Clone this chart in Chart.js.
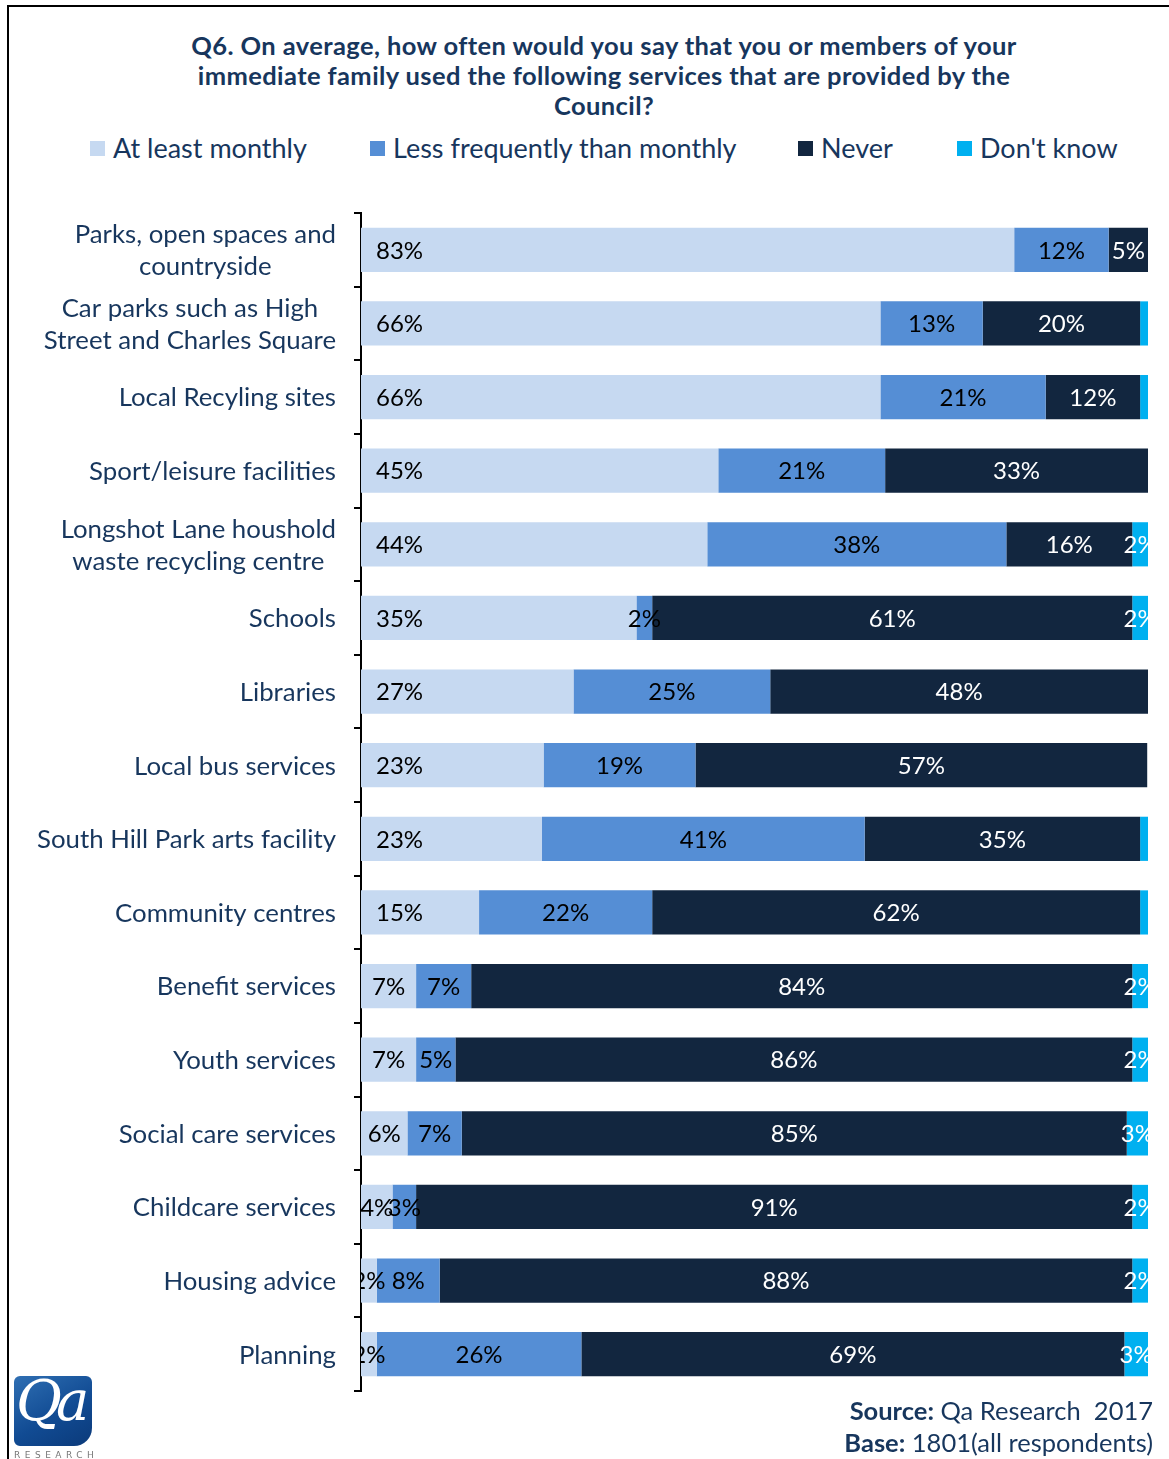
<!DOCTYPE html>
<html>
<head>
<meta charset="utf-8">
<script src="https://cdn.jsdelivr.net/npm/chart.js@4.4.1/dist/chart.umd.min.js"></script>
<style>
  html, body { margin: 0; padding: 0; background: #fff; }
  #page { position: relative; width: 1169px; height: 1459px; overflow: hidden; font-family: Lato, "Open Sans", sans-serif; }
  #frame { position: absolute; left: 7px; top: 5px; width: 1200px; height: 1500px; border-left: 2px solid #000; border-top: 2px solid #000; }
  #title { position: absolute; left: 100px; width: 1008px; top: 30px; text-align: center; font-weight: 700; font-size: 25.5px; letter-spacing: 0.4px; line-height: 30px; color: #17365D; }
  .lg { position: absolute; top: 131px; font-size: 27px; line-height: 34px; color: #17365D; white-space: nowrap; }
  .lg i { position: absolute; left: -23px; top: 10px; width: 15px; height: 15px; }
  #chart { position: absolute; left: 0; top: 0; }
  #source { position: absolute; right: 16px; top: 1394px; text-align: right; font-size: 25.5px; line-height: 32px; color: #17365D; white-space: nowrap; }
  #source b { font-weight: 700; }
  #logo { position: absolute; left: 14px; top: 1376px; width: 78px; height: 70px; border-radius: 6px 6px 18px 6px;
          background: linear-gradient(150deg, #2f6fb3 0%, #114b93 55%, #0b3a7a 100%); overflow: hidden; }
  #logo span { position: absolute; left: 2px; top: -8px; font-family: "DejaVu Serif", "Liberation Serif", serif; font-style: italic; color: #fff; font-size: 56px; letter-spacing: -6px; }
  #logotext { position: absolute; left: 14px; top: 1450px; font-size: 9px; letter-spacing: 4.5px; color: #777; font-family: "DejaVu Sans", sans-serif; }
</style>
</head>
<body>
<div id="page">
  <div id="frame"></div>
  <div id="title">Q6. On average, how often would you say that you or members of your<br>immediate family used the following services that are provided by the<br>Council?</div>
  <div class="lg" style="left:113px"><i style="background:#C6D9F1"></i>At least monthly</div>
  <div class="lg" style="left:393px"><i style="background:#558ED5"></i>Less frequently than monthly</div>
  <div class="lg" style="left:821px"><i style="background:#12263F"></i>Never</div>
  <div class="lg" style="left:980px"><i style="background:#00B0F0"></i>Don't know</div>
  <canvas id="chart" width="1169" height="1459"></canvas>
  <div id="source"><b>Source:</b> Qa Research&nbsp; 2017<br><b>Base:</b> 1801(all respondents)</div>
  <div id="logo"><span>Qa</span></div>
  <div id="logotext">RESEARCH</div>
</div>
<script>
// Services asked about (each entry is a list of label lines)
const services = [
  ["Parks, open spaces and", "countryside"],
  ["Car parks such as High", "Street and Charles Square"],
  ["Local Recyling sites"],
  ["Sport/leisure facilities"],
  ["Longshot Lane houshold", "waste recycling centre"],
  ["Schools"],
  ["Libraries"],
  ["Local bus services"],
  ["South Hill Park arts facility"],
  ["Community centres"],
  ["Benefit services"],
  ["Youth services"],
  ["Social care services"],
  ["Childcare services"],
  ["Housing advice"],
  ["Planning"]
];

// Share of respondents (%) per frequency band
const atLeastMonthly   = [83, 66, 66, 45.4, 44, 35, 27, 23.2, 23, 15, 7, 7, 5.9, 4, 2, 2];
const lessFrequently   = [12, 13, 21, 21.2, 38, 2, 25, 19.3, 41, 22, 7, 5, 6.9, 3, 8, 26];
const never            = [5, 20, 12, 33.4, 16, 61, 48, 57.4, 35, 62, 84, 86, 84.5, 91, 88, 69];
const dontKnow         = [0, 1, 1, 0, 2, 2, 0, 0, 1, 1, 2, 2, 2.7, 2, 2, 3];

const seriesNames  = ["At least monthly", "Less frequently than monthly", "Never", "Don't know"];
const seriesColors = ["#C6D9F1", "#558ED5", "#12263F", "#00B0F0"];
const labelColors  = ["#000000", "#000000", "#FFFFFF", "#FFFFFF"];

const FONT = "Lato, 'Open Sans', sans-serif";
const NAVY = "#17365D";

// Percentage labels inside each segment, clipped to the plot area
const segmentLabels = {
  id: "segmentLabels",
  afterDatasetsDraw(chart) {
    const { ctx, chartArea } = chart;
    ctx.save();
    ctx.beginPath();
    ctx.rect(chartArea.left, chartArea.top, chartArea.right - chartArea.left + 2, chartArea.bottom - chartArea.top);
    ctx.clip();
    ctx.font = "24px " + FONT;
    ctx.textBaseline = "middle";
    chart.data.datasets.forEach((ds, di) => {
      const meta = chart.getDatasetMeta(di);
      meta.data.forEach((bar, i) => {
        const v = ds.data[i];
        const r = Math.round(v);
        if (r < 2) return;
        const text = r + "%";
        const left = Math.min(bar.x, bar.base);
        const right = Math.max(bar.x, bar.base);
        const w = ctx.measureText(text).width;
        ctx.fillStyle = labelColors[di];
        if (di === 0 && right - left >= w + 30) {
          ctx.textAlign = "left";
          ctx.fillText(text, left + 15, bar.y + 1);
        } else {
          ctx.textAlign = "center";
          ctx.fillText(text, (left + right) / 2, bar.y + 1);
        }
      });
    });
    ctx.restore();
  }
};

// Category names: each block right-aligned to the axis, lines centred within the block
const categoryLabels = {
  id: "categoryLabels",
  afterDraw(chart) {
    const { ctx } = chart;
    const y = chart.scales.y;
    const rightEdge = chart.chartArea.left - 25;
    const lineH = 32;
    ctx.save();
    ctx.font = "25.8px " + FONT;
    ctx.fillStyle = NAVY;
    ctx.textBaseline = "middle";
    ctx.textAlign = "center";
    services.forEach((lines, i) => {
      const cy = y.getPixelForValue(i) + 1;
      const bw = Math.max(...lines.map(l => ctx.measureText(l).width));
      const cx = rightEdge - bw / 2;
      const y0 = cy - (lines.length - 1) * lineH / 2;
      lines.forEach((l, k) => ctx.fillText(l, cx, y0 + k * lineH));
    });
    ctx.restore();
  }
};

const seriesData = [atLeastMonthly, lessFrequently, never, dontKnow];

new Chart(document.getElementById("chart"), {
  type: "bar",
  data: {
    labels: services.map(s => s.join(" ")),
    datasets: seriesNames.map((name, i) => ({
      label: name,
      data: seriesData[i],
      backgroundColor: seriesColors[i],
      borderWidth: 0,
      barPercentage: 0.6,
      categoryPercentage: 1
    }))
  },
  options: {
    indexAxis: "y",
    responsive: false,
    animation: false,
    layout: { padding: { left: 0, top: 213, right: 21, bottom: 68 } },
    plugins: { legend: { display: false }, tooltip: { enabled: false } },
    scales: {
      x: { stacked: true, min: 0, max: 100, display: false },
      y: {
        stacked: true,
        afterFit(scale) { scale.width = 361; },
        ticks: { display: false },
        grid: { offset: true, drawOnChartArea: false, drawTicks: true, tickLength: 7, color: "#000", lineWidth: 2 },
        border: { display: true, color: "#000", width: 2 }
      }
    }
  },
  plugins: [segmentLabels, categoryLabels]
});
</script>
</body>
</html>
